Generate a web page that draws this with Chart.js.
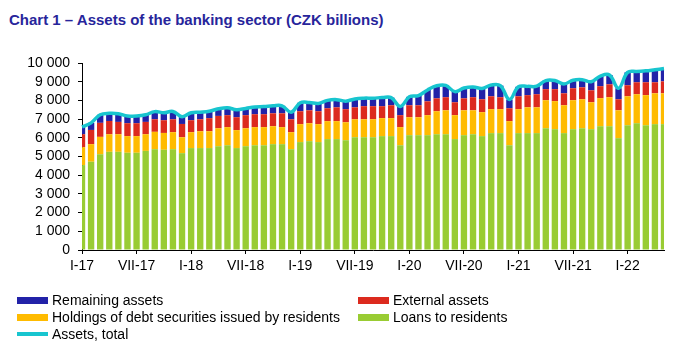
<!DOCTYPE html>
<html><head><meta charset="utf-8">
<script src="https://cdn.jsdelivr.net/npm/chart.js@4.4.0/dist/chart.umd.min.js"></script>
<style>
html,body{margin:0;padding:0;background:#fff;}
#wrap{position:relative;width:686px;height:346px;overflow:hidden;font-family:"Liberation Sans",Arial,sans-serif;}
#title{position:absolute;left:9px;top:11px;font-size:15px;line-height:18px;font-weight:bold;color:#27259b;white-space:nowrap;}
canvas{position:absolute;left:0;top:0;}
.item{position:absolute;height:17px;display:flex;align-items:center;font-size:14px;line-height:17px;color:#000;white-space:nowrap;}
.sw{width:31px;margin-right:4px;flex:none;}
</style></head>
<body><div id="wrap"><div id="title">Chart 1 – Assets of the banking sector (CZK billions)</div><canvas id="c" width="686" height="346"></canvas><div id="legend"></div></div>
<script>
const categories = [
 "I-17","II-17","III-17","IV-17","V-17","VI-17","VII-17","VIII-17","IX-17","X-17","XI-17","XII-17",
 "I-18","II-18","III-18","IV-18","V-18","VI-18","VII-18","VIII-18","IX-18","X-18","XI-18","XII-18",
 "I-19","II-19","III-19","IV-19","V-19","VI-19","VII-19","VIII-19","IX-19","X-19","XI-19","XII-19",
 "I-20","II-20","III-20","IV-20","V-20","VI-20","VII-20","VIII-20","IX-20","X-20","XI-20","XII-20",
 "I-21","II-21","III-21","IV-21","V-21","VI-21","VII-21","VIII-21","IX-21","X-21","XI-21","XII-21",
 "I-22","II-22","III-22","IV-22","V-22"
];
const loansToResidents = [
 4540,4720,5120,5250,5250,5200,5200,5300,5390,5360,
 5390,5180,5450,5450,5450,5550,5600,5450,5550,5600,
 5600,5660,5660,5390,5770,5820,5770,5930,5930,5870,
 6030,6030,6030,6090,6090,5600,6140,6140,6140,6190,
 6190,5930,6140,6190,6090,6250,6250,5600,6250,6250,
 6250,6510,6460,6250,6460,6510,6460,6620,6620,5980,
 6670,6780,6670,6730,6730
];
const debtSecurities = [
 960,940,930,940,940,890,890,890,930,900,
 910,850,850,900,900,960,970,960,960,970,
 970,960,910,910,960,960,960,960,960,960,
 960,960,960,960,960,970,960,960,1070,1230,
 1280,1280,1330,1280,1280,1280,1280,1290,1280,1380,
 1380,1500,1500,1490,1550,1550,1440,1500,1550,1490,
 1550,1550,1610,1650,1650
];
const externalAssets = [
 690,760,750,710,660,690,690,660,670,680,
 690,710,640,640,700,660,640,690,700,690,
 690,690,740,690,690,690,690,690,740,700,
 640,700,700,640,690,640,640,640,740,690,
 700,690,640,700,690,690,640,690,690,650,
 700,590,640,640,640,640,640,640,690,590,
 590,640,690,590,640
];
const remainingAssets = [
 390,380,430,410,440,390,380,380,410,400,
 420,390,400,380,370,380,400,400,360,390,
 410,400,400,380,450,420,420,420,410,430,
 450,430,430,460,410,470,450,520,610,670,
 630,570,550,550,580,600,620,470,510,470,
 430,460,460,500,430,410,460,540,500,590,
 690,580,610,670,680
];
const assetsTotal = [
 6580,6800,7230,7310,7290,7170,7160,7230,7400,7340,
 7410,7130,7340,7370,7420,7550,7610,7500,7570,7650,
 7670,7710,7710,7370,7870,7890,7840,8000,8040,7960,
 8080,8120,8120,8150,8150,7680,8190,8260,8560,8780,
 8800,8470,8660,8720,8640,8820,8790,8050,8730,8750,
 8760,9060,9060,8880,9080,9110,9000,9300,9360,8650,
 9500,9550,9580,9640,9700
];
const labelEvery = 6;

const C = {green:'#99cc33', yellow:'#ffbb00', red:'#dc2a1e', blue:'#2222a8', cyan:'#18c5cf'};
const fontFam = '"Liberation Sans", Arial, sans-serif';

const barDs = (label, data, color) => ({type:'bar', label, data, backgroundColor:color, borderWidth:0,
  stack:'a', order:1, categoryPercentage:1, barPercentage:0.7, clip:0});

const chart = new Chart(document.getElementById('c'), {
  data: {
    labels: categories,
    datasets: [
      barDs('Loans to residents', loansToResidents, C.green),
      barDs('Holdings of debt securities issued by residents', debtSecurities, C.yellow),
      barDs('External assets', externalAssets, C.red),
      barDs('Remaining assets', remainingAssets, C.blue),
      {type:'line', label:'Assets, total', data:assetsTotal, borderColor:C.cyan, backgroundColor:C.cyan,
       borderWidth:3.5, tension:0.4, pointRadius:0, fill:false, stack:'total', order:0}
    ]
  },
  options: {
    responsive:false, animation:false, devicePixelRatio:1,
    layout:{padding:{left:0, right:22, top:63, bottom:70}},
    plugins:{legend:{display:false}, tooltip:{enabled:false}, title:{display:false}},
    scales:{
      x:{type:'category', offset:false, stacked:true,
         grid:{display:true, offset:false, drawOnChartArea:false, drawTicks:true, tickLength:4,
               tickColor:(ctx)=> (ctx.index % labelEvery === 0 ? '#000' : 'rgba(0,0,0,0)'), tickWidth:1},
         border:{display:true, color:'#000', width:1},
         ticks:{autoSkip:false, maxRotation:0, minRotation:0, padding:4, color:'#000',
                font:{family:fontFam, size:14},
                callback:(v,i)=> (i % labelEvery === 0 ? categories[i] : '')},
         afterFit:(s)=>{ s.height = 26; }
      },
      y:{stacked:true, min:0, max:10000,
         grid:{display:true, drawOnChartArea:false, drawTicks:true, tickLength:4, tickColor:'#000'},
         border:{display:true, color:'#000', width:1},
         ticks:{stepSize:1000, autoSkip:false, padding:8, color:'#000', font:{family:fontFam, size:14},
                callback:(v)=> String(v).replace(/\B(?=(\d{3})+(?!\d))/g, ' ')},
         afterFit:(s)=>{ s.width = 82; }
      }
    }
  }
});

// HTML legend built from the chart's datasets
const legendOrder = [3, 2, 1, 0, 4];
const cols = [17, 358];
const rowTop = [292, 309, 325.5];
const leg = document.getElementById('legend');
legendOrder.forEach((di, k) => {
  const ds = chart.data.datasets[di];
  const el = document.createElement('div');
  el.className = 'item';
  el.style.left = cols[k % 2] + 'px';
  el.style.top = rowTop[Math.floor(k / 2)] + 'px';
  const sw = document.createElement('span');
  sw.className = 'sw';
  sw.style.background = ds.type === 'line' ? ds.borderColor : ds.backgroundColor;
  sw.style.height = ds.type === 'line' ? '3.5px' : '7px';
  const t = document.createElement('span');
  t.textContent = ds.label;
  el.appendChild(sw); el.appendChild(t);
  leg.appendChild(el);
});
</script>
</body></html>
